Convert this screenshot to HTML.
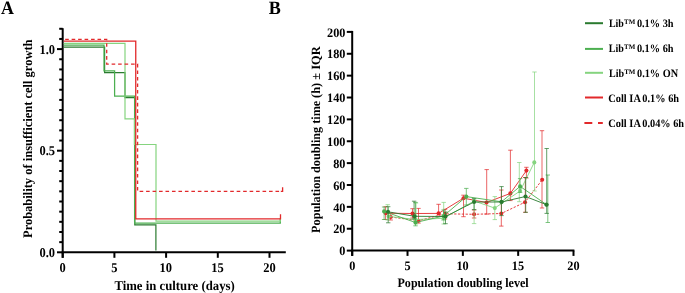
<!DOCTYPE html>
<html><head><meta charset="utf-8"><style>
html,body{margin:0;padding:0;background:#fff;width:685px;height:293px;overflow:hidden}
svg{display:block;will-change:transform}
</style></head><body>
<svg width="685" height="293" viewBox="0 0 685 293">
<rect width="685" height="293" fill="#fff"/>
<path d="M62.7,28.2 V257.8" stroke="#000" stroke-width="2" fill="none"/>
<path d="M61.7,252.3 H285.8" stroke="#000" stroke-width="2" fill="none"/>
<path d="M57.0,252.30 H62.7" stroke="#000" stroke-width="2"/>
<path d="M59.2,242.14 H62.7" stroke="#000" stroke-width="2"/>
<path d="M59.2,231.98 H62.7" stroke="#000" stroke-width="2"/>
<path d="M59.2,221.82 H62.7" stroke="#000" stroke-width="2"/>
<path d="M59.2,211.66 H62.7" stroke="#000" stroke-width="2"/>
<path d="M59.2,201.50 H62.7" stroke="#000" stroke-width="2"/>
<path d="M59.2,191.34 H62.7" stroke="#000" stroke-width="2"/>
<path d="M59.2,181.18 H62.7" stroke="#000" stroke-width="2"/>
<path d="M59.2,171.02 H62.7" stroke="#000" stroke-width="2"/>
<path d="M59.2,160.86 H62.7" stroke="#000" stroke-width="2"/>
<path d="M57.0,150.70 H62.7" stroke="#000" stroke-width="2"/>
<path d="M59.2,140.54 H62.7" stroke="#000" stroke-width="2"/>
<path d="M59.2,130.38 H62.7" stroke="#000" stroke-width="2"/>
<path d="M59.2,120.22 H62.7" stroke="#000" stroke-width="2"/>
<path d="M59.2,110.06 H62.7" stroke="#000" stroke-width="2"/>
<path d="M59.2,99.90 H62.7" stroke="#000" stroke-width="2"/>
<path d="M59.2,89.74 H62.7" stroke="#000" stroke-width="2"/>
<path d="M59.2,79.58 H62.7" stroke="#000" stroke-width="2"/>
<path d="M59.2,69.42 H62.7" stroke="#000" stroke-width="2"/>
<path d="M59.2,59.26 H62.7" stroke="#000" stroke-width="2"/>
<path d="M57.0,49.10 H62.7" stroke="#000" stroke-width="2"/>
<path d="M59.2,38.94 H62.7" stroke="#000" stroke-width="2"/>
<path d="M59.2,28.78 H62.7" stroke="#000" stroke-width="2"/>
<path d="M62.70,252.3 V257.8" stroke="#000" stroke-width="2"/>
<path d="M114.40,252.3 V257.8" stroke="#000" stroke-width="2"/>
<path d="M166.10,252.3 V257.8" stroke="#000" stroke-width="2"/>
<path d="M217.80,252.3 V257.8" stroke="#000" stroke-width="2"/>
<path d="M269.50,252.3 V257.8" stroke="#000" stroke-width="2"/>
<path d="M63.7,47.1 H104.6 V72.6 H125.0 V97.6 H134.8 V224.9 H155.9 V250.5" stroke="#2a7a2f" stroke-width="1.2" fill="none"/>
<path d="M63.7,45.2 H104.0 V70.9 H114.6 V96.2 H134.6 V223.0 H280.3 V219" stroke="#4caf50" stroke-width="1.25" fill="none"/>
<path d="M63.7,43.3 H125.0 V118.9 H134.4 V144.5 H156.0 V221.1 H280.3 V218" stroke="#85d47f" stroke-width="1.2" fill="none"/>
<path d="M63.7,41.2 H135.75 V218.8 H280.5 V214.2" stroke="#e2292b" stroke-width="1.3" fill="none"/>
<path d="M63.7,39.4 H106.7 V64.1 H137.6 V191.4 H280.5" stroke="#e2292b" stroke-width="1.3" fill="none" stroke-dasharray="3.6 2.87" stroke-dashoffset="5.0"/>
<path d="M280.8,191.4 H282.6 V187.2" stroke="#e2292b" stroke-width="1.3" fill="none"/>
<text x="39.52" y="53.70" textLength="15.58" lengthAdjust="spacingAndGlyphs" style="font-family:'Liberation Serif',serif;font-weight:bold;text-rendering:geometricPrecision;font-size:13.4px">1.0</text>
<text x="39.46" y="155.30" textLength="15.58" lengthAdjust="spacingAndGlyphs" style="font-family:'Liberation Serif',serif;font-weight:bold;text-rendering:geometricPrecision;font-size:13.4px">0.5</text>
<text x="39.52" y="256.90" textLength="15.58" lengthAdjust="spacingAndGlyphs" style="font-family:'Liberation Serif',serif;font-weight:bold;text-rendering:geometricPrecision;font-size:13.4px">0.0</text>
<text x="59.58" y="271.50" textLength="6.23" lengthAdjust="spacingAndGlyphs" style="font-family:'Liberation Serif',serif;font-weight:bold;text-rendering:geometricPrecision;font-size:13.4px">0</text>
<text x="111.25" y="271.50" textLength="6.23" lengthAdjust="spacingAndGlyphs" style="font-family:'Liberation Serif',serif;font-weight:bold;text-rendering:geometricPrecision;font-size:13.4px">5</text>
<text x="159.62" y="271.50" textLength="12.46" lengthAdjust="spacingAndGlyphs" style="font-family:'Liberation Serif',serif;font-weight:bold;text-rendering:geometricPrecision;font-size:13.4px">10</text>
<text x="211.29" y="271.50" textLength="12.46" lengthAdjust="spacingAndGlyphs" style="font-family:'Liberation Serif',serif;font-weight:bold;text-rendering:geometricPrecision;font-size:13.4px">15</text>
<text x="263.27" y="271.50" textLength="12.46" lengthAdjust="spacingAndGlyphs" style="font-family:'Liberation Serif',serif;font-weight:bold;text-rendering:geometricPrecision;font-size:13.4px">20</text>
<text x="114.41" y="289.70" textLength="120.37" lengthAdjust="spacingAndGlyphs" style="font-family:'Liberation Serif',serif;font-weight:bold;text-rendering:geometricPrecision;font-size:13.4px">Time in culture (days)</text>
<text transform="translate(31.80,237.99) rotate(-90)" x="0" y="0" textLength="198.50" lengthAdjust="spacingAndGlyphs" style="font-family:'Liberation Serif',serif;font-weight:bold;text-rendering:geometricPrecision;font-size:13.0px">Probability of insufficient cell growth</text>
<text x="0.92" y="13.60" textLength="12.91" lengthAdjust="spacingAndGlyphs" style="font-family:'Liberation Serif',serif;font-weight:bold;text-rendering:geometricPrecision;font-size:18.8px">A</text>
<text x="268.63" y="13.60" textLength="12.06" lengthAdjust="spacingAndGlyphs" style="font-family:'Liberation Serif',serif;font-weight:bold;text-rendering:geometricPrecision;font-size:18.8px">B</text>
<path d="M352.2,30.9 V255.9" stroke="#000" stroke-width="2" fill="none"/>
<path d="M351.2,250.6 H574.4" stroke="#000" stroke-width="2" fill="none"/>
<path d="M346.8,250.60 H352.2" stroke="#000" stroke-width="2"/>
<text x="339.36" y="255.30" textLength="6.13" lengthAdjust="spacingAndGlyphs" style="font-family:'Liberation Serif',serif;font-weight:bold;text-rendering:geometricPrecision;font-size:12.9px">0</text>
<path d="M346.8,228.73 H352.2" stroke="#000" stroke-width="2"/>
<text x="333.24" y="233.43" textLength="12.25" lengthAdjust="spacingAndGlyphs" style="font-family:'Liberation Serif',serif;font-weight:bold;text-rendering:geometricPrecision;font-size:12.9px">20</text>
<path d="M346.8,206.86 H352.2" stroke="#000" stroke-width="2"/>
<text x="333.24" y="211.56" textLength="12.25" lengthAdjust="spacingAndGlyphs" style="font-family:'Liberation Serif',serif;font-weight:bold;text-rendering:geometricPrecision;font-size:12.9px">40</text>
<path d="M346.8,184.99 H352.2" stroke="#000" stroke-width="2"/>
<text x="333.24" y="189.69" textLength="12.25" lengthAdjust="spacingAndGlyphs" style="font-family:'Liberation Serif',serif;font-weight:bold;text-rendering:geometricPrecision;font-size:12.9px">60</text>
<path d="M346.8,163.12 H352.2" stroke="#000" stroke-width="2"/>
<text x="333.24" y="167.82" textLength="12.25" lengthAdjust="spacingAndGlyphs" style="font-family:'Liberation Serif',serif;font-weight:bold;text-rendering:geometricPrecision;font-size:12.9px">80</text>
<path d="M346.8,141.25 H352.2" stroke="#000" stroke-width="2"/>
<text x="327.11" y="145.95" textLength="18.38" lengthAdjust="spacingAndGlyphs" style="font-family:'Liberation Serif',serif;font-weight:bold;text-rendering:geometricPrecision;font-size:12.9px">100</text>
<path d="M346.8,119.38 H352.2" stroke="#000" stroke-width="2"/>
<text x="327.11" y="124.08" textLength="18.38" lengthAdjust="spacingAndGlyphs" style="font-family:'Liberation Serif',serif;font-weight:bold;text-rendering:geometricPrecision;font-size:12.9px">120</text>
<path d="M346.8,97.51 H352.2" stroke="#000" stroke-width="2"/>
<text x="327.11" y="102.21" textLength="18.38" lengthAdjust="spacingAndGlyphs" style="font-family:'Liberation Serif',serif;font-weight:bold;text-rendering:geometricPrecision;font-size:12.9px">140</text>
<path d="M346.8,75.64 H352.2" stroke="#000" stroke-width="2"/>
<text x="327.11" y="80.34" textLength="18.38" lengthAdjust="spacingAndGlyphs" style="font-family:'Liberation Serif',serif;font-weight:bold;text-rendering:geometricPrecision;font-size:12.9px">160</text>
<path d="M346.8,53.77 H352.2" stroke="#000" stroke-width="2"/>
<text x="327.11" y="58.47" textLength="18.38" lengthAdjust="spacingAndGlyphs" style="font-family:'Liberation Serif',serif;font-weight:bold;text-rendering:geometricPrecision;font-size:12.9px">180</text>
<path d="M346.8,31.90 H352.2" stroke="#000" stroke-width="2"/>
<text x="327.11" y="36.60" textLength="18.38" lengthAdjust="spacingAndGlyphs" style="font-family:'Liberation Serif',serif;font-weight:bold;text-rendering:geometricPrecision;font-size:12.9px">200</text>
<path d="M352.20,250.6 V255.9" stroke="#000" stroke-width="2"/>
<text x="349.14" y="269.50" textLength="6.13" lengthAdjust="spacingAndGlyphs" style="font-family:'Liberation Serif',serif;font-weight:bold;text-rendering:geometricPrecision;font-size:12.9px">0</text>
<path d="M407.52,250.6 V255.9" stroke="#000" stroke-width="2"/>
<text x="404.43" y="269.50" textLength="6.13" lengthAdjust="spacingAndGlyphs" style="font-family:'Liberation Serif',serif;font-weight:bold;text-rendering:geometricPrecision;font-size:12.9px">5</text>
<path d="M462.85,250.6 V255.9" stroke="#000" stroke-width="2"/>
<text x="456.48" y="269.50" textLength="12.25" lengthAdjust="spacingAndGlyphs" style="font-family:'Liberation Serif',serif;font-weight:bold;text-rendering:geometricPrecision;font-size:12.9px">10</text>
<path d="M518.17,250.6 V255.9" stroke="#000" stroke-width="2"/>
<text x="511.77" y="269.50" textLength="12.25" lengthAdjust="spacingAndGlyphs" style="font-family:'Liberation Serif',serif;font-weight:bold;text-rendering:geometricPrecision;font-size:12.9px">15</text>
<path d="M573.50,250.6 V255.9" stroke="#000" stroke-width="2"/>
<text x="567.37" y="269.50" textLength="12.25" lengthAdjust="spacingAndGlyphs" style="font-family:'Liberation Serif',serif;font-weight:bold;text-rendering:geometricPrecision;font-size:12.9px">20</text>
<text x="397.52" y="286.50" textLength="131.08" lengthAdjust="spacingAndGlyphs" style="font-family:'Liberation Serif',serif;font-weight:bold;text-rendering:geometricPrecision;font-size:12.9px">Population doubling level</text>
<text transform="translate(319.90,232.88) rotate(-90)" x="0" y="0" textLength="132.10" lengthAdjust="spacingAndGlyphs" style="font-family:'Liberation Serif',serif;font-weight:bold;text-rendering:geometricPrecision;font-size:12.6px">Population doubling time</text>
<text transform="translate(319.90,97.96) rotate(-90)" x="0" y="0" textLength="51.74" lengthAdjust="spacingAndGlyphs" style="font-family:'Liberation Serif',serif;font-weight:bold;text-rendering:geometricPrecision;font-size:12.6px">(h) ± IQR</text>
<path d="M390.7,217.0 L418.5,220.7 L445.0,213.8 L474.1,214.3 L501.3,213.5 L525.0,202.2 L542.2,179.8" stroke="#e2292b" stroke-width="1" fill="none" opacity="0.9" stroke-dasharray="2.3 1.5"/>
<path d="M390.7,213.0 V220.0 M388.5,213.0 H392.9 M388.5,220.0 H392.9" stroke="#e2292b" stroke-width="1" fill="none" opacity="0.72"/>
<path d="M418.5,208.4 V223.1 M416.3,208.4 H420.7 M416.3,223.1 H420.7" stroke="#e2292b" stroke-width="1" fill="none" opacity="0.72"/>
<path d="M445.0,209.3 V219.0 M442.8,209.3 H447.2 M442.8,219.0 H447.2" stroke="#e2292b" stroke-width="1" fill="none" opacity="0.72"/>
<path d="M474.1,210.0 V218.0 M471.9,210.0 H476.3 M471.9,218.0 H476.3" stroke="#e2292b" stroke-width="1" fill="none" opacity="0.72"/>
<path d="M501.3,190.0 V226.1 M499.1,190.0 H503.5 M499.1,226.1 H503.5" stroke="#e2292b" stroke-width="1" fill="none" opacity="0.72"/>
<path d="M525.3,177.5 V212.3 M523.1,177.5 H527.5 M523.1,212.3 H527.5" stroke="#e2292b" stroke-width="1" fill="none" opacity="0.72"/>
<path d="M542.0,130.7 V208.0 M539.8,130.7 H544.2 M539.8,208.0 H544.2" stroke="#e2292b" stroke-width="1" fill="none" opacity="0.72"/>
<circle cx="390.7" cy="217.0" r="2.05" fill="#e2292b"/>
<circle cx="418.5" cy="220.7" r="2.05" fill="#e2292b"/>
<circle cx="445.0" cy="213.8" r="2.05" fill="#e2292b"/>
<circle cx="474.1" cy="214.3" r="2.05" fill="#e2292b"/>
<circle cx="501.3" cy="213.5" r="2.05" fill="#e2292b"/>
<circle cx="525.0" cy="202.2" r="2.05" fill="#e2292b"/>
<circle cx="542.2" cy="179.8" r="2.05" fill="#e2292b"/>
<path d="M385.8,213.2 L412.5,213.5 L438.6,213.4 L463.5,198.2 L486.5,202.5 L510.4,193.4 L526.4,170.6" stroke="#e2292b" stroke-width="1" fill="none" opacity="0.9"/>
<path d="M385.6,206.7 V219.5 M383.4,206.7 H387.8 M383.4,219.5 H387.8" stroke="#e2292b" stroke-width="1" fill="none" opacity="0.72"/>
<path d="M412.5,208.7 V218.0 M410.3,208.7 H414.7 M410.3,218.0 H414.7" stroke="#e2292b" stroke-width="1" fill="none" opacity="0.72"/>
<path d="M438.6,204.3 V213.4 M436.4,204.3 H440.8 M436.4,213.4 H440.8" stroke="#e2292b" stroke-width="1" fill="none" opacity="0.72"/>
<path d="M463.5,195.2 V216.7 M461.3,195.2 H465.7 M461.3,216.7 H465.7" stroke="#e2292b" stroke-width="1" fill="none" opacity="0.72"/>
<path d="M486.7,169.6 V214.1 M484.5,169.6 H488.9 M484.5,214.1 H488.9" stroke="#e2292b" stroke-width="1" fill="none" opacity="0.72"/>
<path d="M510.4,150.2 V200.6 M508.2,150.2 H512.6 M508.2,200.6 H512.6" stroke="#e2292b" stroke-width="1" fill="none" opacity="0.72"/>
<path d="M526.4,167.3 V178.0 M524.2,167.3 H528.6 M524.2,178.0 H528.6" stroke="#e2292b" stroke-width="1" fill="none" opacity="0.72"/>
<circle cx="385.8" cy="213.2" r="2.05" fill="#e2292b"/>
<circle cx="412.5" cy="213.5" r="2.05" fill="#e2292b"/>
<circle cx="438.6" cy="213.4" r="2.05" fill="#e2292b"/>
<circle cx="463.5" cy="198.2" r="2.05" fill="#e2292b"/>
<circle cx="486.5" cy="202.5" r="2.05" fill="#e2292b"/>
<circle cx="510.4" cy="193.4" r="2.05" fill="#e2292b"/>
<circle cx="526.4" cy="170.6" r="2.05" fill="#e2292b"/>
<path d="M388.7,216.4 L415.5,219.5 L443.7,218.3 L474.1,201.0 L494.8,208.1 L520.1,191.0 L534.3,162.4" stroke="#85d47f" stroke-width="1" fill="none" opacity="0.9"/>
<path d="M387.7,204.7 V220.0 M385.5,204.7 H389.9 M385.5,220.0 H389.9" stroke="#85d47f" stroke-width="1" fill="none" opacity="0.72"/>
<path d="M416.0,203.0 V224.0 M413.8,203.0 H418.2 M413.8,224.0 H418.2" stroke="#85d47f" stroke-width="1" fill="none" opacity="0.72"/>
<path d="M443.7,202.4 V224.0 M441.5,202.4 H445.9 M441.5,224.0 H445.9" stroke="#85d47f" stroke-width="1" fill="none" opacity="0.72"/>
<path d="M474.1,200.0 V223.6 M471.9,200.0 H476.3 M471.9,223.6 H476.3" stroke="#85d47f" stroke-width="1" fill="none" opacity="0.72"/>
<path d="M494.8,196.6 V219.6 M492.6,196.6 H497.0 M492.6,219.6 H497.0" stroke="#85d47f" stroke-width="1" fill="none" opacity="0.72"/>
<path d="M519.3,162.5 V201.7 M517.1,162.5 H521.5 M517.1,201.7 H521.5" stroke="#85d47f" stroke-width="1" fill="none" opacity="0.72"/>
<path d="M534.5,72.0 V191.0 M532.3,72.0 H536.7 M532.3,191.0 H536.7" stroke="#85d47f" stroke-width="1" fill="none" opacity="0.72"/>
<circle cx="388.7" cy="216.4" r="2.05" fill="#85d47f"/>
<circle cx="415.5" cy="219.5" r="2.05" fill="#85d47f"/>
<circle cx="443.7" cy="218.3" r="2.05" fill="#85d47f"/>
<circle cx="474.1" cy="201.0" r="2.05" fill="#85d47f"/>
<circle cx="494.8" cy="208.1" r="2.05" fill="#85d47f"/>
<circle cx="520.1" cy="191.0" r="2.05" fill="#85d47f"/>
<circle cx="534.3" cy="162.4" r="2.05" fill="#85d47f"/>
<path d="M384.1,211.4 L415.5,222.5 L443.5,216.0 L466.3,196.6 L501.5,201.8 L520.1,186.4 L546.4,204.5" stroke="#4caf50" stroke-width="1" fill="none" opacity="0.9"/>
<path d="M384.1,207.0 V219.5 M381.9,207.0 H386.3 M381.9,219.5 H386.3" stroke="#4caf50" stroke-width="1" fill="none" opacity="0.72"/>
<path d="M415.5,202.4 V225.8 M413.3,202.4 H417.7 M413.3,225.8 H417.7" stroke="#4caf50" stroke-width="1" fill="none" opacity="0.72"/>
<path d="M443.5,210.0 V220.0 M441.3,210.0 H445.7 M441.3,220.0 H445.7" stroke="#4caf50" stroke-width="1" fill="none" opacity="0.72"/>
<path d="M466.3,188.4 V205.0 M464.1,188.4 H468.5 M464.1,205.0 H468.5" stroke="#4caf50" stroke-width="1" fill="none" opacity="0.72"/>
<path d="M520.1,178.6 V192.4 M517.9,178.6 H522.3 M517.9,192.4 H522.3" stroke="#4caf50" stroke-width="1" fill="none" opacity="0.72"/>
<path d="M547.8,175.0 V222.5 M545.6,175.0 H550.0 M545.6,222.5 H550.0" stroke="#4caf50" stroke-width="1" fill="none" opacity="0.72"/>
<circle cx="384.1" cy="211.4" r="2.05" fill="#4caf50"/>
<circle cx="415.5" cy="222.5" r="2.05" fill="#4caf50"/>
<circle cx="443.5" cy="216.0" r="2.05" fill="#4caf50"/>
<circle cx="466.3" cy="196.6" r="2.05" fill="#4caf50"/>
<circle cx="501.5" cy="201.8" r="2.05" fill="#4caf50"/>
<circle cx="520.1" cy="186.4" r="2.05" fill="#4caf50"/>
<circle cx="546.4" cy="204.5" r="2.05" fill="#4caf50"/>
<path d="M388.0,211.8 L414.6,216.3 L445.5,216.5 L474.1,202.0 L501.5,202.0 L525.5,196.5 L546.6,204.7" stroke="#2a7a2f" stroke-width="1" fill="none" opacity="0.9"/>
<path d="M388.2,206.7 V222.8 M386.0,206.7 H390.4 M386.0,222.8 H390.4" stroke="#2a7a2f" stroke-width="1" fill="none" opacity="0.72"/>
<path d="M414.1,201.2 V219.0 M411.9,201.2 H416.3 M411.9,219.0 H416.3" stroke="#2a7a2f" stroke-width="1" fill="none" opacity="0.72"/>
<path d="M445.5,212.0 V223.7 M443.3,212.0 H447.7 M443.3,223.7 H447.7" stroke="#2a7a2f" stroke-width="1" fill="none" opacity="0.72"/>
<path d="M474.1,198.6 V209.6 M471.9,198.6 H476.3 M471.9,209.6 H476.3" stroke="#2a7a2f" stroke-width="1" fill="none" opacity="0.72"/>
<path d="M501.5,186.6 V215.6 M499.3,186.6 H503.7 M499.3,215.6 H503.7" stroke="#2a7a2f" stroke-width="1" fill="none" opacity="0.72"/>
<path d="M525.7,177.5 V212.3 M523.5,177.5 H527.9 M523.5,212.3 H527.9" stroke="#2a7a2f" stroke-width="1" fill="none" opacity="0.72"/>
<path d="M546.7,148.5 V213.4 M544.5,148.5 H548.9 M544.5,213.4 H548.9" stroke="#2a7a2f" stroke-width="1" fill="none" opacity="0.72"/>
<circle cx="388.0" cy="211.8" r="2.05" fill="#2a7a2f"/>
<circle cx="414.6" cy="216.3" r="2.05" fill="#2a7a2f"/>
<circle cx="445.5" cy="216.5" r="2.05" fill="#2a7a2f"/>
<circle cx="474.1" cy="202.0" r="2.05" fill="#2a7a2f"/>
<circle cx="501.5" cy="202.0" r="2.05" fill="#2a7a2f"/>
<circle cx="525.5" cy="196.5" r="2.05" fill="#2a7a2f"/>
<circle cx="546.6" cy="204.7" r="2.05" fill="#2a7a2f"/>
<path d="M585,23.2 H603" stroke="#2a7a2f" stroke-width="2"/>
<path d="M585,48.9 H603" stroke="#4caf50" stroke-width="2"/>
<path d="M585,72.8 H603" stroke="#85d47f" stroke-width="2"/>
<path d="M585,97.5 H603" stroke="#e2292b" stroke-width="2"/>
<path d="M584.4,123.1 H592.3 M598,123.1 H602.8" stroke="#e2292b" stroke-width="2"/>
<text x="608.95" y="26.70" textLength="14.96" lengthAdjust="spacingAndGlyphs" style="font-family:'Liberation Serif',serif;font-weight:bold;text-rendering:geometricPrecision;font-size:11.3px">Lib</text>
<text x="624.10" y="23.70" textLength="11.18" lengthAdjust="spacingAndGlyphs" style="font-family:'Liberation Serif',serif;font-weight:bold;text-rendering:geometricPrecision;font-size:6.8px">TM</text>
<text x="636.89" y="26.70" textLength="36.68" lengthAdjust="spacingAndGlyphs" style="font-family:'Liberation Serif',serif;font-weight:bold;text-rendering:geometricPrecision;font-size:11.3px">0.1% 3h</text>
<text x="608.85" y="51.80" textLength="15.06" lengthAdjust="spacingAndGlyphs" style="font-family:'Liberation Serif',serif;font-weight:bold;text-rendering:geometricPrecision;font-size:11.3px">Lib</text>
<text x="624.10" y="48.80" textLength="11.18" lengthAdjust="spacingAndGlyphs" style="font-family:'Liberation Serif',serif;font-weight:bold;text-rendering:geometricPrecision;font-size:6.8px">TM</text>
<text x="636.89" y="51.80" textLength="36.68" lengthAdjust="spacingAndGlyphs" style="font-family:'Liberation Serif',serif;font-weight:bold;text-rendering:geometricPrecision;font-size:11.3px">0.1% 6h</text>
<text x="608.95" y="76.90" textLength="15.06" lengthAdjust="spacingAndGlyphs" style="font-family:'Liberation Serif',serif;font-weight:bold;text-rendering:geometricPrecision;font-size:11.3px">Lib</text>
<text x="624.20" y="74.10" textLength="11.18" lengthAdjust="spacingAndGlyphs" style="font-family:'Liberation Serif',serif;font-weight:bold;text-rendering:geometricPrecision;font-size:6.8px">TM</text>
<text x="637.09" y="76.90" textLength="40.96" lengthAdjust="spacingAndGlyphs" style="font-family:'Liberation Serif',serif;font-weight:bold;text-rendering:geometricPrecision;font-size:11.3px">0.1% ON</text>
<text x="608.28" y="101.70" textLength="32.62" lengthAdjust="spacingAndGlyphs" style="font-family:'Liberation Serif',serif;font-weight:bold;text-rendering:geometricPrecision;font-size:11.3px">Coll IA</text>
<text x="642.29" y="101.70" textLength="36.78" lengthAdjust="spacingAndGlyphs" style="font-family:'Liberation Serif',serif;font-weight:bold;text-rendering:geometricPrecision;font-size:11.3px">0.1% 6h</text>
<text x="608.28" y="126.90" textLength="32.62" lengthAdjust="spacingAndGlyphs" style="font-family:'Liberation Serif',serif;font-weight:bold;text-rendering:geometricPrecision;font-size:11.3px">Coll IA</text>
<text x="642.29" y="126.90" textLength="41.78" lengthAdjust="spacingAndGlyphs" style="font-family:'Liberation Serif',serif;font-weight:bold;text-rendering:geometricPrecision;font-size:11.3px">0.04% 6h</text>
</svg>
</body></html>
